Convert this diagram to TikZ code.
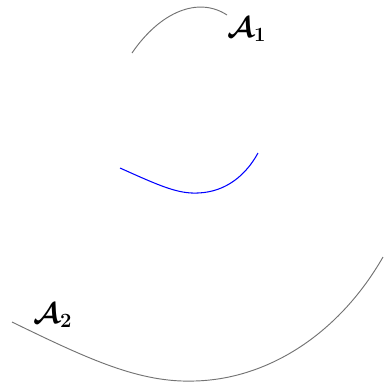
\documentclass[tikz,border=0pt]{standalone}
\usepackage{bm}
\usetikzlibrary{positioning}

\begin{document}
\begin{tikzpicture}[
    x=0.03cm, y=-0.03cm,
    outer/.style={
        draw=gray!90!black,
        line width=0.8pt
    },
    inner/.style={
        draw=blue,
        line width=0.9pt
    },
    lbl/.style={font=\fontsize{26}{28}\selectfont, inner sep=0pt}
]

\useasboundingbox (0,0) rectangle (383,387);

%% ===== TOP ARC =====
\coordinate (a1start) at (132,53);
\coordinate (a1end) at (227,15);
\draw[outer] (a1start) .. controls (160,12) and (198,-4) .. (a1end);
\node[lbl, anchor=north west] (a1) at ([xshift=0pt,yshift=-2pt]a1end)
  {$\bm{\mathcal{A}}_{\bm{1}}$};

%% ===== MIDDLE ARC =====
\coordinate (bstart) at (120,168);
\coordinate (bmid) at (198,193);
\coordinate (bend) at (258,153);
\draw[inner] (bstart) .. controls (160,186) and (178,194) .. (bmid)
  .. controls (226,192) and (246,175) .. (bend);

%% ===== BOTTOM ARC =====
\coordinate (a2start) at (12,322);
\coordinate (a2mid) at (195,381);
\coordinate (a2end) at (383,257);
\draw[outer] (a2start) .. controls (90,360) and (140,383) .. (a2mid)
  .. controls (270,379) and (340,332) .. (a2end);
\node[lbl, anchor=south west] (a2) at ([xshift=18pt,yshift=-5pt]a2start)
  {$\bm{\mathcal{A}}_{\bm{2}}$};

\end{tikzpicture}
\end{document}
